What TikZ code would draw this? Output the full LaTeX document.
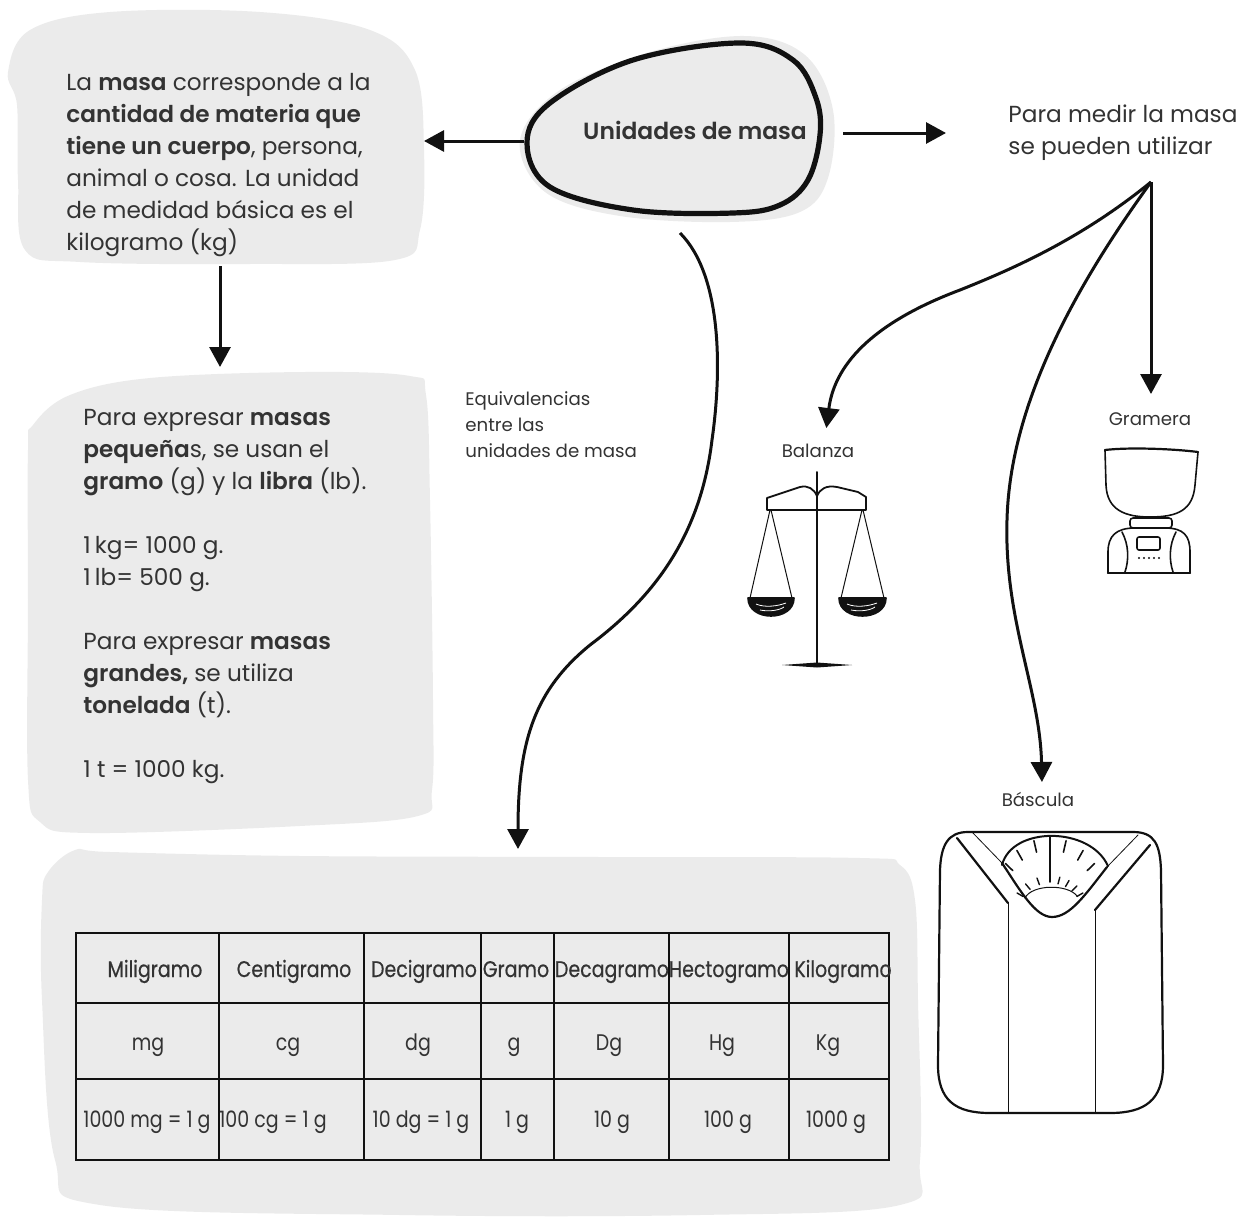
\documentclass[tikz,border=0pt]{standalone}
\usepackage{fontspec}
\setmainfont{Poppins}[BoldFont={Poppins SemiBold}]
\newfontfamily\tabfont{Poppins}[FakeStretch=0.84]
\newfontfamily\tabhead{Poppins}[FakeStretch=0.84, FakeBold=0.5]
\usetikzlibrary{arrows.meta,calc}
\definecolor{ink}{HTML}{333333}
\definecolor{blobgray}{HTML}{EBEBEB}
\definecolor{linec}{HTML}{111111}
\tikzset{
  blob/.style={fill=blobgray, draw=none},
  txt/.style={font=\fontsize{11.6}{16}\selectfont, text=ink, align=left, inner sep=0pt},
  lbl/.style={font=\fontsize{9.1}{13}\selectfont, text=ink, align=left, inner sep=0pt},
  cell/.style={font=\tabfont\fontsize{11.3}{12}\selectfont, text=ink, inner sep=0pt, anchor=base},
  hcell/.style={cell, font=\tabhead\fontsize{11.3}{12}\selectfont},
  arr/.style={draw=linec, line width=1.5pt, -{Triangle[width=10.5pt,length=10pt,sep=1.5pt]}},
  sketch/.style={draw=linec, line width=0.8pt, line cap=round, line join=round},
}
\begin{document}
\begin{tikzpicture}[x=0.5pt,y=-0.5pt]
\useasboundingbox (0,0) rectangle (1244,1226);

% background blobs
\fill[blob] plot[smooth cycle, tension=0.6] coordinates {(8,72) (30,30) (110,12) (260,12) (370,30) (415,70) (424,150) (420,230) (395,260) (250,264) (80,262) (25,250) (18,180) (17,105)};
\fill[blob] plot[smooth cycle, tension=0.6] coordinates {(33,425) (70,395) (150,378) (305,372) (410,376) (426,395) (430,500) (433,700) (432,790) (418,816) (300,826) (90,833) (40,822) (28,780) (28,600) (28,450)};
\fill[blob] plot[smooth cycle, tension=0.6] coordinates {(48,872) (75,850) (110,852) (300,856) (600,857) (860,858) (900,865) (915,900) (918,1000) (920,1160) (900,1205) (700,1215) (400,1215) (100,1205) (55,1160) (42,1000) (42,900)};

% central topic
\fill[blob] plot[smooth cycle, tension=0.6] coordinates {(520,140) (560,90) (650,52) (745,36) (805,55) (833,110) (828,178) (800,212) (730,222) (620,216) (545,192)};
\draw[draw=linec, line width=2.6pt, fill=blobgray] plot[smooth cycle, tension=0.6] coordinates {(527,143) (550,103) (633,60) (740,43) (793,60) (816,98) (820,135) (808,180) (780,205) (733,213) (633,210) (550,187)};
\node[font=\fontsize{11.7}{15}\bfseries\selectfont, text=ink, inner sep=0pt, anchor=base] (topic) at (695,139) {Unidades de masa};

% text blocks (anchored at the baseline of their last line)
\node[txt, anchor=base west] (def) at (66,250) {La \textbf{masa} corresponde a la\\ \textbf{cantidad de materia que}\\ \textbf{tiene un cuerpo}, persona,\\ animal o cosa. La unidad\\ de medidad básica es el\\ kilogramo (kg)};
\node[txt, anchor=base west] (small) at (83,777) {Para expresar \textbf{masas}\\ \textbf{pequeña}s, se usan el\\ \textbf{gramo} (g) y la \textbf{libra} (lb).\\[16pt] 1\hspace{0.18em}kg= 1000 g.\\ 1\hspace{0.18em}lb= 500 g.\\[16pt] Para expresar \textbf{masas}\\ \textbf{grandes,} se utiliza\\ \textbf{tonelada} (t).\\[16pt] 1 t = 1000 kg.};
\node[txt, anchor=base west] (measure) at (1008,154) {Para medir la masa\\ se pueden utilizar};
\node[lbl, anchor=base west] (equiv) at (465,457) {Equivalencias\\ entre las\\ unidades de masa};
\node[lbl, anchor=base] (balanza) at (818,457) {Balanza};
\node[lbl, anchor=base] (gramera) at (1150,425) {Gramera};
\node[lbl, anchor=base] (bascula) at (1038,806) {Báscula};

% connector ends
\coordinate (uL) at (524,141);
\coordinate (defR) at (421,141);
\coordinate (uR) at (843,133);
\coordinate (measL) at (949,133);
\coordinate (defB) at (220,266);
\coordinate (smallT) at (220,370);
\coordinate (uB) at (680,233);
\coordinate (tabT) at (518,852);
\coordinate (fan) at (1151,182);
\coordinate (balT) at (826,431);
\coordinate (graT) at (1151,397);
\coordinate (basT) at (1042,785);

% connectors
\draw[arr] (uL) -- (defR);
\draw[arr] (uR) -- (measL);
\draw[arr] (defB) -- (smallT);
\draw[arr] (uB) .. controls (722,275) and (722,370) .. (712,440) .. controls (700,540) and (650,600) .. (590,645) .. controls (535,690) and (518,740) .. (tabT);
\draw[arr] (fan) .. controls (1080,240) and (1010,270) .. (960,290) .. controls (880,320) and (835,360) .. (balT);
\draw[arr] (fan) -- (graT);
\draw[arr] (fan) .. controls (1080,280) and (1010,400) .. (1007,520) .. controls (1004,620) and (1040,690) .. (basT);

% table
\draw[linec, line width=0.8pt] (76,933) rectangle (889,1160);
\foreach \x in {219,364,481,554,669,789} \draw[linec, line width=0.8pt] (\x,933) -- (\x,1160);
\foreach \y in {1003,1079} \draw[linec, line width=0.8pt] (76,\y) -- (889,\y);
\node[hcell] (h1) at (155,977) {Miligramo};
\node[hcell] (h2) at (294,977) {Centigramo};
\node[hcell] (h3) at (424,977) {Decigramo};
\node[hcell] (h4) at (516,977) {Gramo};
\node[hcell] (h5) at (612,977) {Decagramo};
\node[hcell] (h6) at (729,977) {Hectogramo};
\node[hcell] (h7) at (843,977) {Kilogramo};
\node[cell] (s1) at (148,1050) {mg};
\node[cell] (s2) at (288,1050) {cg};
\node[cell] (s3) at (418,1050) {dg};
\node[cell] (s4) at (514,1050) {g};
\node[cell] (s5) at (609,1050) {Dg};
\node[cell] (s6) at (722,1050) {Hg};
\node[cell] (s7) at (828,1050) {Kg};
\node[cell] (v1) at (147,1127) {1000 mg = 1 g};
\node[cell] (v2) at (273,1127) {100 cg = 1 g};
\node[cell] (v3) at (421,1127) {10 dg = 1 g};
\node[cell] (v4) at (517,1127) {1 g};
\node[cell] (v5) at (612,1127) {10 g};
\node[cell] (v6) at (728,1127) {100 g};
\node[cell] (v7) at (836,1127) {1000 g};

% balanza
\draw[sketch, line width=1pt] (817,472) -- (817,665);
\draw[sketch, line width=0.9pt] (767,510) -- (767,498) -- (800,487) .. controls (808,485) and (814,489) .. (817,496) .. controls (820,489) and (826,485) .. (837,487) -- (858,492) -- (866,497) -- (866,510) -- cycle;
\draw[sketch, line width=0.5pt] (770,510) -- (750,598) (771,510) -- (792,598);
\draw[sketch, line width=0.5pt] (862,510) -- (841,598) (863,510) -- (884,598);
\filldraw[sketch, fill=linec] (748,598) .. controls (748,622) and (794,622) .. (794,598) -- cycle;
\filldraw[sketch, fill=linec] (839,598) .. controls (839,622) and (886,622) .. (886,598) -- cycle;
\draw[white, line width=0.4pt] (756,604) .. controls (765,608) and (778,606) .. (786,603) (760,610) .. controls (770,612) and (780,610) .. (784,607);
\draw[white, line width=0.4pt] (847,604) .. controls (856,608) and (869,606) .. (877,603) (851,610) .. controls (861,612) and (871,610) .. (875,607);
\fill[linec] (782,665) -- (817,662.5) -- (852,665) -- (817,667.5) -- cycle;

% gramera
\draw[sketch, line width=1.1pt] (1105,450) .. controls (1130,447) and (1175,449) .. (1198,452);
\draw[sketch] (1105,450) -- (1106,485) .. controls (1107,510) and (1125,517) .. (1150,517) .. controls (1178,517) and (1193,510) .. (1195,485) -- (1198,452);
\draw[sketch, rounded corners=1.5pt] (1130,518) rectangle (1172,528);
\draw[sketch] (1108,573) -- (1108,552) .. controls (1108,536) and (1116,528) .. (1135,528) -- (1165,528) .. controls (1184,528) and (1190,536) .. (1190,552) -- (1190,573);
\draw[sketch, line width=1.2pt] (1108,573) -- (1190,573);
\draw[sketch] (1122,532) .. controls (1129,545) and (1129,560) .. (1125,572);
\draw[sketch] (1176,532) .. controls (1169,545) and (1169,560) .. (1173,572);
\draw[sketch, rounded corners=1pt] (1137,537) rectangle (1160,550);
\foreach \x in {1139,1144,1149,1154,1159} \fill[linec] (\x,558) circle (0.6pt);

% bascula
\draw[sketch, line width=1.1pt] (968,832) -- (1133,832) .. controls (1155,832) and (1160,845) .. (1161,870) -- (1163,1065) .. controls (1163,1100) and (1145,1113) .. (1110,1113) -- (990,1113) .. controls (955,1113) and (938,1100) .. (938,1065) -- (940,870) .. controls (941,845) and (948,832) .. (968,832) -- cycle;
\draw[sketch, line width=1.1pt] (957,838) -- (1008,903);
\draw[sketch, line width=0.5pt] (1008,903) -- (1008,1113);
\draw[sketch, line width=1.1pt] (1150,845) -- (1095,910);
\draw[sketch, line width=0.5pt] (1095,910) -- (1095,1113);
\draw[sketch, line width=0.4pt] (972,832) -- (1002,863) (1138,835) -- (1107,867);
\draw[sketch, line width=1.1pt] (1002,863) .. controls (1020,890) and (1035,917) .. (1052,917) .. controls (1070,917) and (1085,895) .. (1107,867);
\draw[sketch, line width=1pt] (1002,865) .. controls (1012,826) and (1090,826) .. (1108,866);
\draw[sketch, line width=0.5pt] (1025,898) .. controls (1032,884) and (1068,884) .. (1077,896);
\coordinate (dial) at (1050,900);
\draw[sketch, line width=0.9pt] (1050,836) -- (1050,882);
\foreach \a in {-144,-127,-107,-73,-53,-36}
  \draw[sketch, line width=0.8pt] ($(dial)+(\a:55 and 62)$) -- ($(dial)+(\a:46 and 50)$);
\coordinate (dial2) at (1050,910);
\foreach \a in {-150,-130,-110,-75,-60,-45,-30}
  \draw[sketch, line width=0.7pt] ($(dial2)+(\a:31 and 27)$) -- ($(dial2)+(\a:38 and 34)$);
\end{tikzpicture}
\end{document}
